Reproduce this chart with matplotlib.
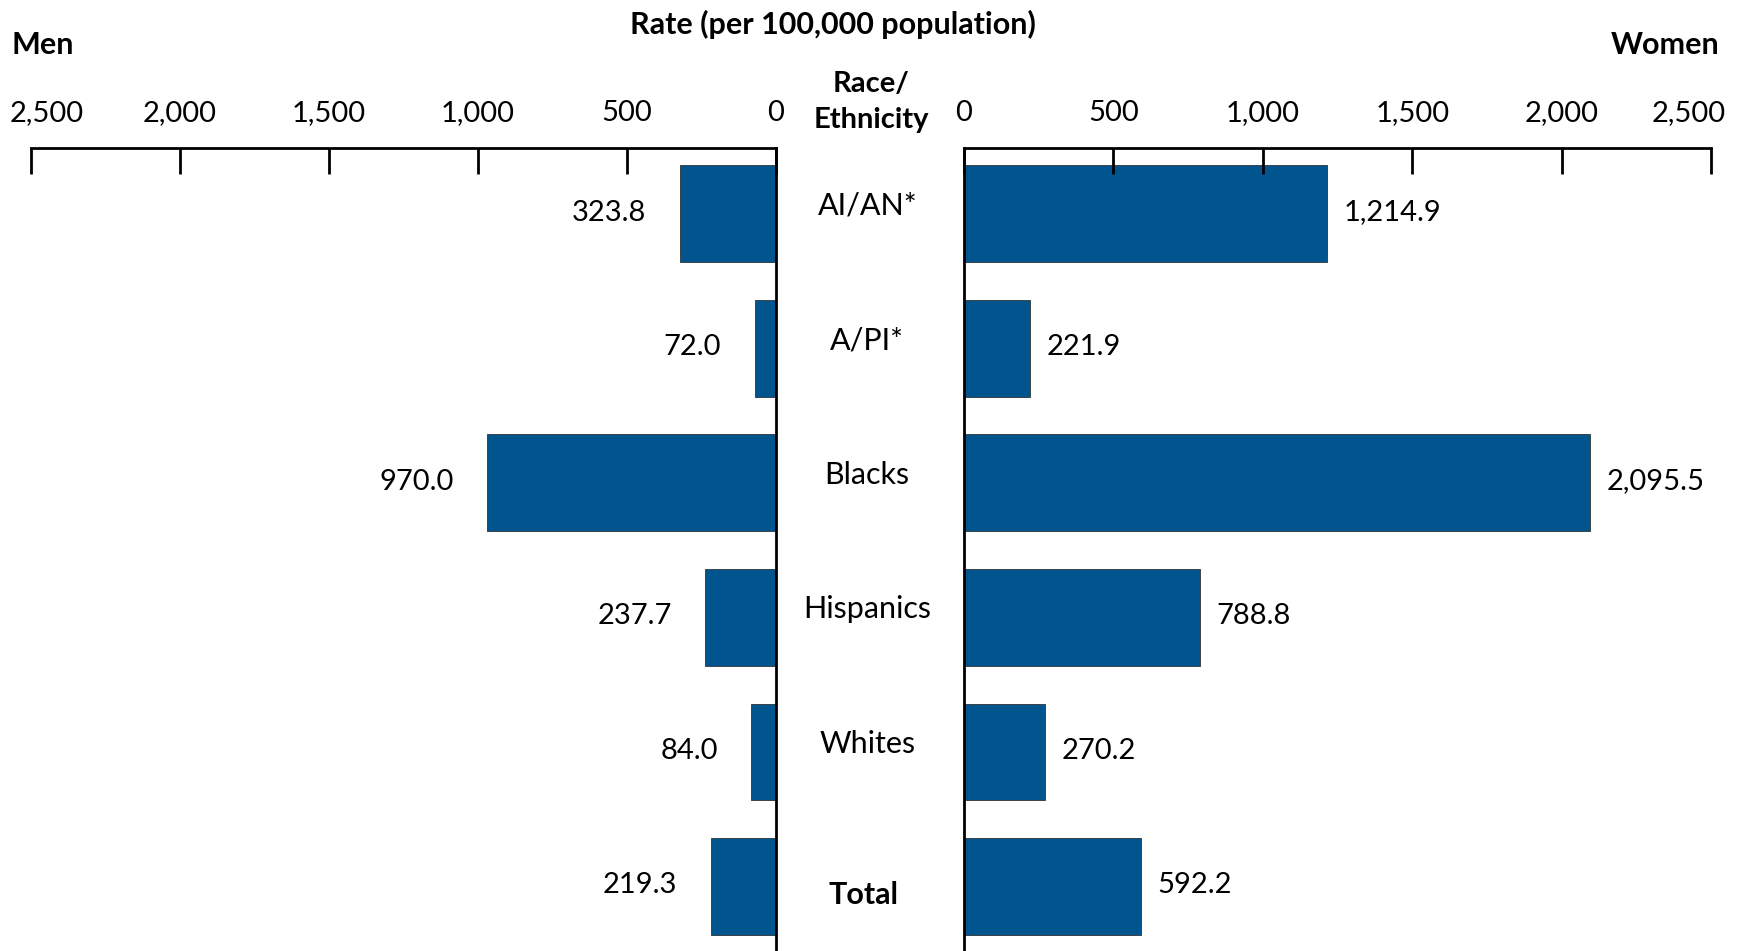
import matplotlib.pyplot as plt
import matplotlib.transforms as mtransforms

plt.rcParams['font.family'] = ['Lato', 'DejaVu Sans']

# data
groups = ['AI/AN*', 'A/PI*', 'Blacks', 'Hispanics', 'Whites', 'Total']
men = [323.8, 72.0, 970.0, 237.7, 84.0, 219.3]
women = [1214.9, 221.9, 2095.5, 788.8, 270.2, 592.2]
ticks = [0, 500, 1000, 1500, 2000, 2500]
tick_labels = ['0', '500', '1,000', '1,500', '2,000', '2,500']

bar_color = '#00558F'
W, H = 1745, 951
fig = plt.figure(figsize=(W / 100, H / 100), dpi=100)

top = 148
axL = fig.add_axes([31 / W, 0, (776 - 31) / W, (H - top) / H])
axR = fig.add_axes([964 / W, 0, (1711 - 964) / W, (H - top) / H])

ypos = list(range(len(groups)))

for ax, vals in ((axL, men), (axR, women)):
    ax.barh(ypos, vals, height=0.72, color=bar_color, edgecolor='#333333', linewidth=0.6)
    ax.set_ylim(len(groups) - 0.52, -0.49)
    ax.set_xticks(ticks)
    ax.set_xticklabels(tick_labels)
    ax.set_yticks([])
    ax.xaxis.tick_top()
    ax.tick_params(axis='x', direction='in', length=19, width=2, pad=16, labelsize=21)
    for s in ax.spines.values():
        s.set_visible(False)
        s.set_linewidth(2)
    ax.spines['top'].set_visible(True)

axL.set_xlim(2500, 0)
axL.spines['right'].set_visible(True)
axR.set_xlim(0, 2500)
axR.spines['left'].set_visible(True)

# outer tick labels sit a bit inward
lab = axL.get_xticklabels()[-1]
lab.set_transform(lab.get_transform() + mtransforms.ScaledTranslation(16 / 100, 0, fig.dpi_scale_trans))
lab = axR.get_xticklabels()[-1]
lab.set_transform(lab.get_transform() + mtransforms.ScaledTranslation(-22 / 100, 0, fig.dpi_scale_trans))

for i, v in enumerate(men):
    axL.annotate(f'{v:,.1f}', (v, i), xytext=(-24, 1), textcoords='offset points',
                 ha='right', va='center', fontsize=21)
for i, v in enumerate(women):
    axR.annotate(f'{v:,.1f}', (v, i), xytext=(12, 1), textcoords='offset points',
                 ha='left', va='center', fontsize=21)

# category labels in the middle gap
trans = mtransforms.blended_transform_factory(fig.transFigure, axL.transData)
for i, g in enumerate(groups):
    if g == 'Total':
        fig.text(0.495, i + 0.06, g, transform=trans, ha='center', va='center',
                 fontsize=22, fontweight='bold')
    else:
        fig.text(0.497, i - 0.06, g, transform=trans, ha='center', va='center', fontsize=22)

fig.text(833 / W, 1 - 24 / H, 'Rate (per 100,000 population)', ha='center', va='center',
         fontsize=22, fontweight='bold')
fig.text(12 / W, 1 - 45 / H, 'Men', ha='left', va='center', fontsize=22, fontweight='bold')
fig.text(1719 / W, 1 - 45 / H, 'Women', ha='right', va='center', fontsize=22, fontweight='bold')
fig.text(871 / W, 1 - 102 / H, 'Race/\nEthnicity', ha='center', va='center',
         fontsize=21, fontweight='bold', linespacing=1.45)

fig.savefig('out.png', dpi=100)
